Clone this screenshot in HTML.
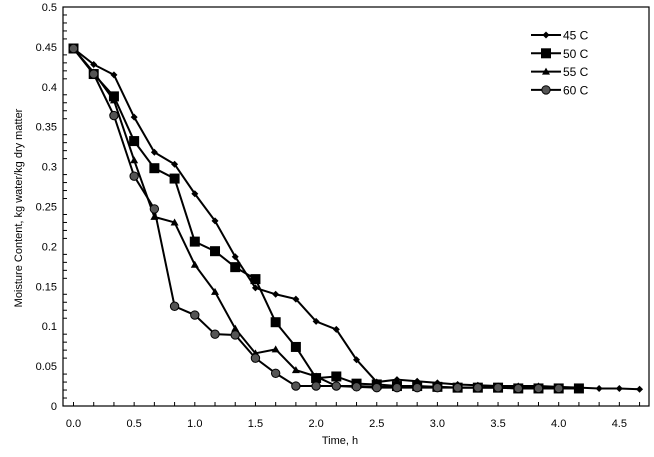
<!DOCTYPE html>
<html><head><meta charset="utf-8"><style>
body{margin:0;background:#fff}
svg text{font-family:"Liberation Sans","DejaVu Sans",sans-serif;fill:#000}
</style></head><body>
<svg id="chart" width="654" height="452" xmlns="http://www.w3.org/2000/svg">
<g id="axes"></g><g id="series"></g><g id="legend"></g>
</svg>
<script>
const xTicks=["0.0","0.5","1.0","1.5","2.0","2.5","3.0","3.5","4.0","4.5"];
const yTicks=["0","0.05","0.1","0.15","0.2","0.25","0.3","0.35","0.4","0.45","0.5"];
const seriesNames=["45 C","50 C","55 C","60 C"];
const s45=[0.448,0.428,0.415,0.362,0.318,0.303,0.266,0.232,0.187,0.148,0.140,0.134,0.106,0.096,0.058,0.030,0.033,0.031,0.029,0.027,0.026,0.025,0.025,0.025,0.024,0.023,0.022,0.022,0.021];
const s50=[0.448,0.416,0.388,0.332,0.298,0.285,0.206,0.194,0.174,0.159,0.105,0.074,0.035,0.037,0.028,0.027,0.025,0.025,0.024,0.023,0.023,0.023,0.022,0.022,0.022,0.022];
const s55=[0.448,0.418,0.383,0.308,0.237,0.230,0.177,0.143,0.097,0.066,0.071,0.045,0.037,0.025,0.025,0.024,0.024,0.024,0.024,0.023,0.023,0.023,0.023,0.023,0.023];
const s60=[0.448,0.416,0.364,0.288,0.247,0.125,0.114,0.090,0.089,0.060,0.041,0.025,0.025,0.025,0.024,0.023,0.023,0.023,0.023,0.023,0.023,0.023,0.022,0.022,0.022];
const stepH=1/6;
const NS="http://www.w3.org/2000/svg";
const L=63,R=649,T=7,B=406;
function xs(t){return 73.5+t*121.3;}
function ys(v){return B-(v/0.5)*(B-T);}
function mk(tag,attrs,parent){const e=document.createElementNS(NS,tag);for(const k in attrs)e.setAttribute(k,attrs[k]);parent.appendChild(e);return e;}
const ax=document.getElementById('axes');
const frame=mk('rect',{x:L,y:T,width:R-L,height:B-T,fill:'none',stroke:'#000','stroke-width':1.2},ax);


for(let i=0;i<=50;i++){const y=ys(i*0.01);const len=(i%5==0)?0:4;if(len){const tk=mk('line',{x1:L,x2:L+len,y1:y,y2:y,stroke:'#000'},ax);

}}
yTicks.forEach((lab,i)=>{const v=i*0.05;const t=mk('text',{x:L-6,y:ys(v)+4,'text-anchor':'end','font-size':11},ax);t.textContent=lab;

});
for(let i=0;i<=28;i++){const x=xs(i*stepH);if(x>R)break;const tk=mk('line',{x1:x,x2:x,y1:B,y2:B-4,stroke:'#000'},ax);

}
xTicks.forEach(lab=>{const t=mk('text',{x:xs(parseFloat(lab)),y:B+21,'text-anchor':'middle','font-size':11},ax);t.textContent=lab;

});
const xt=mk('text',{x:340,y:444,'text-anchor':'middle','font-size':11},ax);xt.textContent='Time, h';


const yt=mk('text',{x:0,y:0,'text-anchor':'middle','font-size':11,transform:'translate(22,208) rotate(-90)'},ax);yt.textContent='Moisture Content, kg water/kg dry matter';


function marker(kind,x,y,g){
 if(kind==0)return mk('polygon',{points:`${x},${y-3.5} ${x+3.5},${y} ${x},${y+3.5} ${x-3.5},${y}`,fill:'#000'},g);
 if(kind==1)return mk('rect',{x:x-5,y:y-5,width:10,height:10,fill:'#000'},g);
 if(kind==2)return mk('polygon',{points:`${x},${y-4} ${x+4},${y+3} ${x-4},${y+3}`,fill:'#000'},g);
 return mk('circle',{cx:x,cy:y,r:4.2,fill:'#555',stroke:'#000','stroke-width':1},g);
}
const sg=document.getElementById('series');
[s45,s50,s55,s60].forEach((arr,k)=>{
 const g=mk('g',{},sg);
 
 
 const pts=arr.map((v,i)=>xs(i*stepH)+','+ys(v)).join(' ');
 const pl=mk('polyline',{points:pts,fill:'none',stroke:'#000','stroke-width':2},g);
 
 
 arr.forEach((v,i)=>{const m=marker(k,xs(i*stepH),ys(v),g);
 
 });
});
const lg=document.getElementById('legend');


seriesNames.forEach((n,k)=>{const y=35+k*18.3;
 const g=mk('g',{},lg);
 
 
 mk('line',{x1:531,x2:561,y1:y,y2:y,stroke:'#000','stroke-width':2},g);
 marker(k,546,y,g);
 const t=mk('text',{x:563,y:y+4.5,'font-size':12},g);t.textContent=n;});
</script>
</body></html>
